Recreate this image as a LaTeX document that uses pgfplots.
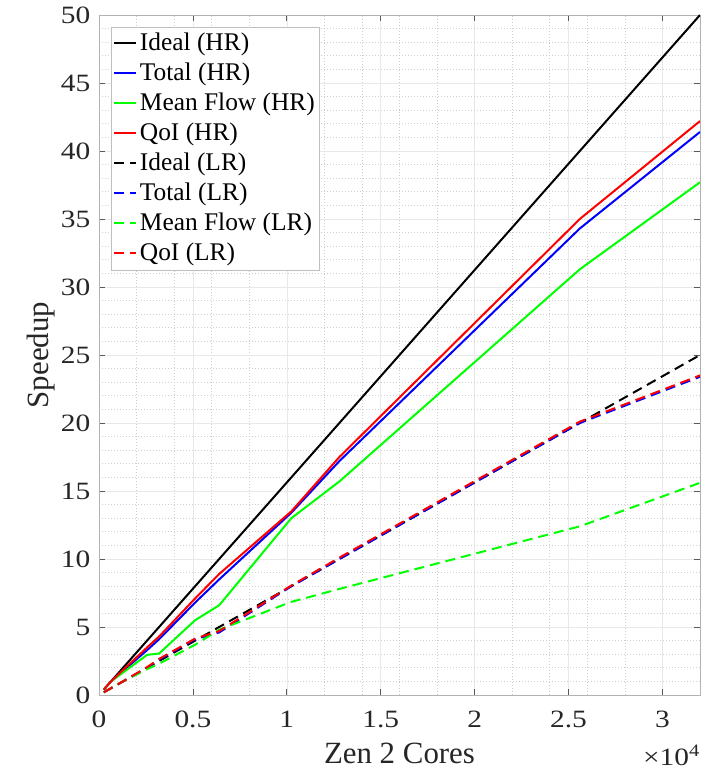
\documentclass[border=0pt]{standalone}
\usepackage{fontspec}
\setmainfont{Liberation Serif}
\newfontfamily\tickfont{Liberation Serif}[FakeStretch=1.18]
\usepackage{pgfplots}
\pgfplotsset{compat=1.18}
\definecolor{txt}{RGB}{38,38,38}

\pgfplotstableread{
x     ideal total qoi  mean
256   0.4   0.4   0.4  0.4
640   1.0   1.0   1.0  1.0
2560  4.0   3.3   3.5  2.95
3200  5.0   4.1   4.3  3.05
5120  8.0   6.8   7.1  5.5
6400  10.0  8.5   8.9  6.6
10240 16.0  13.4  13.5 13.0
12800 20.0  17.2  17.5 15.7
25600 40.0  34.3  35.0 31.3
32000 50.0  41.4  42.2 37.7
}\hr

\pgfplotstableread{
x     ideal total qoi  mean
256   0.2   0.2   0.2  0.2
1280  1.0   1.0   1.0  1.0
2560  2.0   2.0   2.05 1.9
3200  2.5   2.6   2.65 2.3
5120  4.0   4.1   4.15 3.7
6400  5.0   4.6   4.7  4.8
10240 8.0   8.0   8.05 6.85
12800 10.0  10.0  10.1 7.8
25600 20.0  20.0  20.1 12.4
32000 25.0  23.4  23.5 15.6
}\lr

\begin{document}
\begin{tikzpicture}
\begin{axis}[
  scale only axis, width=601bp, height=680bp,
  xmin=0, xmax=32000, ymin=0, ymax=50,
  xtick={0,5000,...,30000}, xticklabels={0,0.5,1,1.5,2,2.5,3},
  scaled x ticks=false,
  ytick={0,5,...,50},
  minor xtick={2000,4000,...,32000},
  minor ytick={0,1,...,50},
  grid=both,
  major grid style={gray!18, line width=0.6bp},
  minor grid style={gray!38, dash pattern=on 0.8bp off 2.2bp, line width=0.6bp},
  axis line style={gray!60, line width=0.8bp},
  major tick style={black!65, line width=0.8bp}, major tick length=6bp,
  minor tick length=0pt,
  tick align=inside,
  /pgf/number format/assume math mode=true,
  ticklabel style={font=\tickfont\fontsize{25}{25}\selectfont, text=txt, inner sep=0pt},
  xticklabel style={anchor=base, yshift=-32bp},
  yticklabel style={anchor=east, xshift=-8.5bp},
  xlabel={Zen 2 Cores}, ylabel={Speedup},
  label style={font=\fontsize{31}{31}\selectfont, text=txt, inner sep=0pt},
  xlabel style={at={(rel axis cs:0.5,0)}, anchor=base, yshift=-68bp},
  ylabel style={at={(rel axis cs:0,0.5)}, rotate=0, anchor=base, xshift=0pt, yshift=50.5bp},
  legend cell align=left,
  legend style={at={(0.02,0.983)}, anchor=north west, draw=gray!50, fill=white,
    line width=0.8bp, font=\fontsize{25.5}{25.5}\selectfont, text=black,
    inner xsep=2bp, inner ysep=1.5bp,
    nodes={inner sep=2.5bp, text height=20bp, text depth=5bp},
    row sep=0pt},
  legend image code/.code={\draw[#1] (0bp,0bp) -- (22bp,0bp);},
  every axis plot/.append style={line width=2bp},
  lr/.style={dash pattern=on 10bp off 6bp},
]
\addplot[black] table[x=x,y=ideal]{\hr};
\addlegendentry{Ideal (HR)}
\addplot[blue] table[x=x,y=total]{\hr};
\addlegendentry{Total (HR)}
\addplot[green] table[x=x,y=mean]{\hr};
\addlegendentry{Mean Flow (HR)}
\addplot[red] table[x=x,y=qoi]{\hr};
\addlegendentry{QoI (HR)}
\addplot[black,lr] table[x=x,y=ideal]{\lr};
\addlegendentry{Ideal (LR)}
\addplot[blue,lr] table[x=x,y=total]{\lr};
\addlegendentry{Total (LR)}
\addplot[green,lr] table[x=x,y=mean]{\lr};
\addlegendentry{Mean Flow (LR)}
\addplot[red,lr] table[x=x,y=qoi]{\lr};
\addlegendentry{QoI (LR)}
\coordinate (sw) at (rel axis cs:0,0);
\coordinate (ne) at (rel axis cs:1,1);
\end{axis}
\node[anchor=base east, font=\tickfont\fontsize{25}{25}\selectfont, text=txt, inner sep=0pt] at ([yshift=-70bp]sw -| ne) {×10\textsuperscript{4}};
\path[use as bounding box] ([shift={(-99bp,-76bp)}]sw) rectangle ([shift={(2bp,15bp)}]ne);
\end{tikzpicture}
\end{document}
